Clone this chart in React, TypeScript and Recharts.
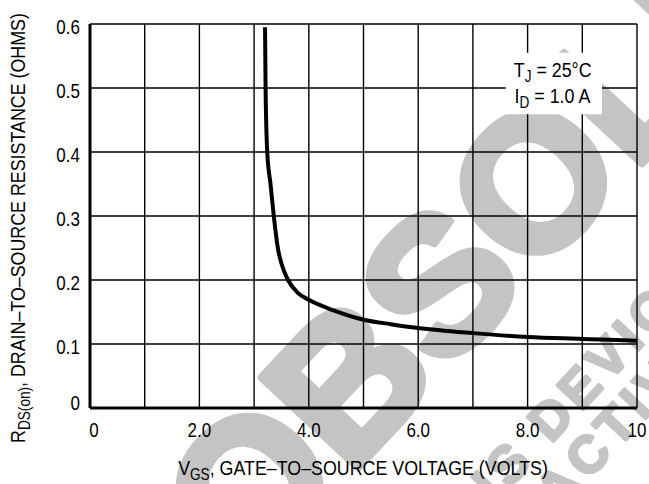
import { LineChart, Line, XAxis, YAxis, CartesianGrid, ReferenceArea, Label } from "recharts";

// RDS(on) vs VGS at TJ = 25°C, ID = 1.0 A
const vgs = [3.2, 3.21, 3.24, 3.3, 3.36, 3.44, 3.51, 3.62, 3.8, 4.0, 4.44, 5.0, 5.5, 6.0, 7.0, 8.0, 9.0, 10.0];
const rds = [0.595, 0.5, 0.4, 0.35, 0.3, 0.247, 0.223, 0.2, 0.18, 0.169, 0.153, 0.138, 0.131, 0.125, 0.117, 0.111, 0.108, 0.105];

const xTicks = [0, 1, 2, 3, 4, 5, 6, 7, 8, 9, 10];
const xTickLabels: Record<number, string> = { 0: "0", 2: "2.0", 4: "4.0", 6: "6.0", 8: "8.0", 10: "10" };
const yTicks = [0, 0.1, 0.2, 0.3, 0.4, 0.5, 0.6];
const yTickLabels = ["0", "0.1", "0.2", "0.3", "0.4", "0.5", "0.6"];

const data = vgs.map((v, i) => ({ v, r: rds[i] }));

const FONT = "'Liberation Sans', Arial, sans-serif";
// no narrow face installed, so text is squeezed horizontally
const SQ = 0.85;
const WM = "#c4c4c4";

const XTick = ({ x, payload }: any) => {
  const t = xTickLabels[payload.value];
  if (!t) return null;
  const dx = payload.value === 0 ? 4 : 0;
  return (
    <text transform={`translate(${x + dx},437) scale(${SQ},1)`} textAnchor="middle" fontFamily={FONT} fontSize={20} fill="#000">
      {t}
    </text>
  );
};

const YTick = ({ y, payload }: any) => {
  const i = yTicks.indexOf(payload.value);
  const dy = payload.value === 0 ? 2 : 10;
  return (
    <text transform={`translate(80,${y + dy}) scale(${SQ},1)`} textAnchor="end" fontFamily={FONT} fontSize={20} fill="#000">
      {yTickLabels[i]}
    </text>
  );
};

const XTitle = () => (
  <text transform={`translate(363,475) scale(${SQ},1)`} textAnchor="middle" fontFamily={FONT} fontSize={21} fill="#000">
    V<tspan fontSize={16} dy={5}>GS</tspan>
    <tspan dy={-5}>, GATE–TO–SOURCE VOLTAGE (VOLTS)</tspan>
  </text>
);

const YTitle = () => (
  <text
    transform={`translate(25,228) rotate(-90) scale(${SQ},1)`}
    textAnchor="middle"
    fontFamily={FONT}
    fontSize={21}
    fill="#000"
  >
    R<tspan fontSize={16} dy={5}>DS(on)</tspan>
    <tspan dy={-5}>, DRAIN–TO–SOURCE RESISTANCE (OHMS)</tspan>
  </text>
);

const Conditions = ({ viewBox }: any) => {
  const { x, y } = viewBox;
  return (
    <g transform={`translate(${x + 8},${y}) scale(${SQ},1)`}>
      <text fontFamily={FONT} fontSize={21} fill="#000">
        <tspan x={0} y={24}>T</tspan>
        <tspan fontSize={16} dy={5}>J</tspan>
        <tspan dy={-5}> = 25°C</tspan>
        <tspan x={1} y={50}>I</tspan>
        <tspan fontSize={16} dy={5}>D</tspan>
        <tspan dy={-5}> = 1.0 A</tspan>
      </text>
    </g>
  );
};

function Watermark() {
  return (
    <svg width={649} height={484} style={{ position: "absolute", left: 0, top: 0 }}>
      <g
        transform="translate(532,180) rotate(-47)"
        fill={WM}
        stroke={WM}
        strokeLinejoin="round"
        fontFamily="'Liberation Sans', Arial, sans-serif"
        fontWeight="bold"
      >
        <text x={-491} y={69} fontSize={192} strokeWidth={8}>OBSOLETE</text>
        <text x={-343} y={194} fontSize={52} letterSpacing={6} strokeWidth={3}>THIS DEVICE</text>
        <text x={-371} y={246} fontSize={52} letterSpacing={6} strokeWidth={3}>IS INACTIVE</text>
      </g>
    </svg>
  );
}

export default function App() {
  return (
    <div style={{ position: "absolute", left: 0, top: 0, width: 649, height: 484, background: "#fff", overflow: "hidden" }}>
      <Watermark />
      <div style={{ position: "absolute", left: 0, top: 0 }}>
        <LineChart width={649} height={484} data={data} margin={{ top: 24, right: 12, bottom: 46, left: 40 }}>
          <CartesianGrid stroke="#000" strokeWidth={1.4} horizontalValues={yTicks} verticalValues={xTicks} />
          <XAxis
            type="number"
            dataKey="v"
            domain={[0, 10]}
            ticks={xTicks}
            interval={0}
            height={30}
            tickLine={false}
            axisLine={{ stroke: "#000", strokeWidth: 3 }}
            tick={<XTick />}
          >
            <Label content={<XTitle />} />
          </XAxis>
          <YAxis
            type="number"
            domain={[0, 0.6]}
            ticks={yTicks}
            interval={0}
            width={50}
            tickLine={false}
            axisLine={{ stroke: "#000", strokeWidth: 3 }}
            tick={<YTick />}
          >
            <Label content={<YTitle />} />
          </YAxis>
          <ReferenceArea x1={7.6} x2={9.36} y1={0.459} y2={0.555} fill="#fff" fillOpacity={1} stroke="none" ifOverflow="visible">
            <Label content={<Conditions />} />
          </ReferenceArea>
          <Line
            type="monotone"
            dataKey="r"
            stroke="#000"
            strokeWidth={4}
            dot={false}
            activeDot={false}
            isAnimationActive={false}
          />
        </LineChart>
      </div>
    </div>
  );
}
